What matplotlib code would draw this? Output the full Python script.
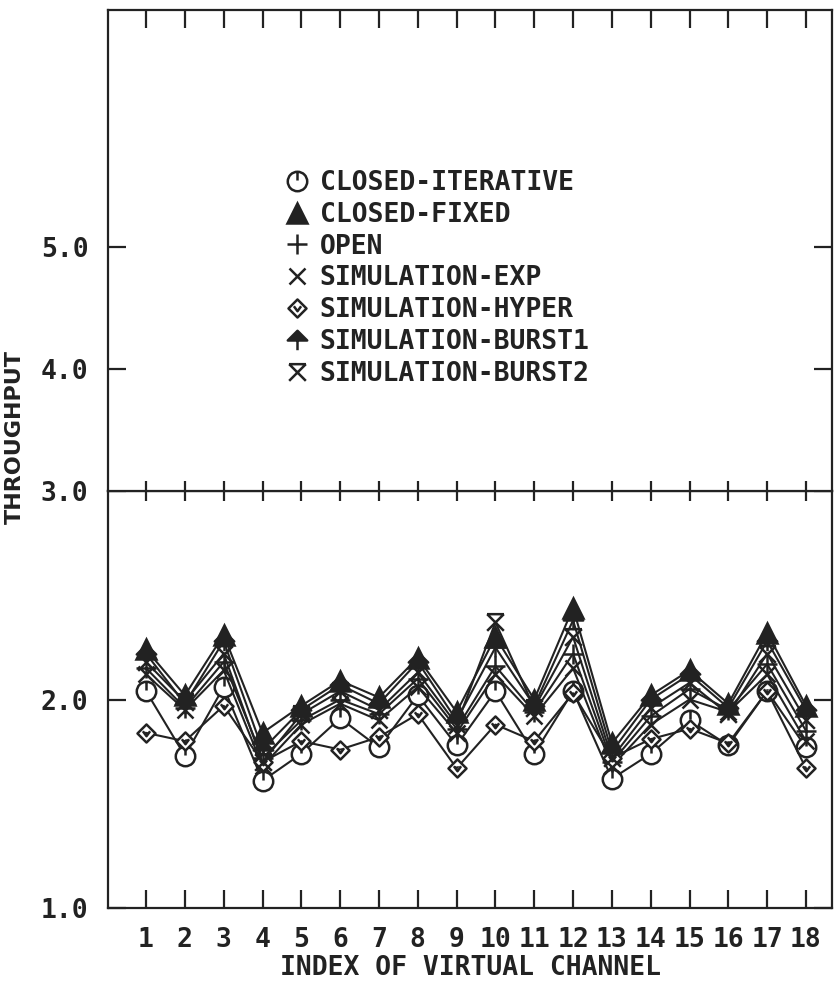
import matplotlib
matplotlib.use("Agg")
import matplotlib.pyplot as plt
from matplotlib.path import Path
from matplotlib.lines import Line2D

# throughput per virtual channel for each model
channels = list(range(1, 19))
closed_iterative = [2.04, 1.73, 2.06, 1.61, 1.74, 1.91, 1.77, 2.02, 1.78, 2.04, 1.74, 2.04, 1.62, 1.74, 1.90, 1.78, 2.04, 1.77]
closed_fixed     = [2.24, 2.02, 2.31, 1.84, 1.97, 2.09, 2.01, 2.20, 1.94, 2.30, 2.00, 2.44, 1.79, 2.02, 2.14, 1.98, 2.32, 1.97]
open_model       = [2.15, 1.96, 2.18, 1.72, 1.90, 2.00, 1.93, 2.10, 1.86, 2.16, 1.94, 2.22, 1.70, 1.92, 2.05, 1.95, 2.17, 1.85]
sim_exp          = [2.12, 1.95, 2.14, 1.68, 1.88, 1.98, 1.90, 2.06, 1.84, 2.12, 1.92, 2.15, 1.68, 1.88, 2.00, 1.94, 2.12, 1.80]
sim_hyper        = [1.84, 1.80, 1.97, 1.70, 1.80, 1.76, 1.82, 1.93, 1.67, 1.88, 1.80, 2.03, 1.72, 1.81, 1.86, 1.79, 2.04, 1.67]
sim_burst1       = [2.22, 1.98, 2.28, 1.76, 1.95, 2.07, 1.98, 2.18, 1.90, 2.25, 1.97, 2.38, 1.75, 2.00, 2.12, 1.96, 2.28, 1.95]
sim_burst2       = [2.18, 1.99, 2.22, 1.70, 1.93, 2.04, 1.95, 2.13, 1.88, 2.37, 1.96, 2.30, 1.72, 1.96, 2.08, 1.93, 2.22, 1.90]

names = ["CLOSED-ITERATIVE", "CLOSED-FIXED", "OPEN", "SIMULATION-EXP",
         "SIMULATION-HYPER", "SIMULATION-BURST1", "SIMULATION-BURST2"]
values = [closed_iterative, closed_fixed, open_model, sim_exp,
          sim_hyper, sim_burst1, sim_burst2]

ink = "#222222"
mono = "DejaVu Sans Mono"

# plotter style symbols
M, L, C = Path.MOVETO, Path.LINETO, Path.CLOSEPOLY
circle_mark = Path.make_compound_path(
    Path.unit_circle(), Path([(0, 0.1), (0, 1.0)], [M, L]))
diamond_mark = Path.make_compound_path(
    Path([(0, 1), (1, 0), (0, -1), (-1, 0), (0, 1)], [M, L, L, L, C]),
    Path([(-0.4, 0.25), (0, -0.3), (0.4, 0.25)], [M, L, L]))
arrow_mark = Path.make_compound_path(
    Path([(-1, 0.0), (0, 1), (1, 0.0), (-1, 0.0)], [M, L, L, C]),
    Path([(0, 0.0), (0, -1)], [M, L]))
hourglass_mark = Path([(-1, 1), (1, 1), (-1, 1), (1, -1), (1, 1), (-1, -1)],
                      [M, L, M, L, M, L])

styles = [
    dict(marker=circle_mark, ms=14, mfc="white"),
    dict(marker="^", ms=14, mfc=ink),
    dict(marker="+", ms=15, mfc="none"),
    dict(marker="x", ms=12, mfc="none"),
    dict(marker=diamond_mark, ms=13, mfc="white"),
    dict(marker=arrow_mark, ms=14, mfc=ink),
    dict(marker=hourglass_mark, ms=12, mfc="none"),
]

fig = plt.figure(figsize=(8.34, 9.82), dpi=100)
left, width = 108 / 834, 724 / 834
ax = fig.add_axes([left, 74 / 982, width, 417 / 982])
ax_top = fig.add_axes([left, 491 / 982, width, 481 / 982])

for vals, st in zip(values, styles):
    ax.plot(channels, vals, color=ink, lw=1.5, mec=ink, mew=1.8, **st)

xlim = (0.02, 18.67)
ax.set_xlim(*xlim)
ax.set_ylim(1.0, 3.0)
ax_top.set_xlim(*xlim)
ax_top.set_ylim(3.0, 6.94)

for a in (ax, ax_top):
    for sp in a.spines.values():
        sp.set_color(ink)
        sp.set_linewidth(1.6)
    a.tick_params(axis="both", direction="in", length=13, width=1.6,
                  color=ink, labelcolor=ink, labelsize=19)
    a.tick_params(axis="y", left=True, right=True, labelleft=True, pad=14)
ax_top.spines["bottom"].set_visible(False)

ax.set_xticks(channels)
ax.set_xticklabels([str(c) for c in channels], family=mono, weight="bold")
ax.tick_params(axis="x", top=False, bottom=True, pad=14)
ax.set_yticks([1.0, 2.0, 3.0])
ax.set_yticklabels(["1.0", "2.0", "3.0"], family=mono, weight="bold")

ax_top.set_xticks(channels)
ax_top.tick_params(axis="x", top=True, bottom=False, labelbottom=False)
ax_top.set_yticks([4.0, 5.0])
ax_top.set_yticklabels(["4.0", "5.0"], family=mono, weight="bold")

# crossing ticks along the 3.0 line
ax_mid = ax.twiny()
ax_mid.set_xlim(*xlim)
ax_mid.set_xticks(channels)
ax_mid.tick_params(axis="x", direction="inout", length=14, width=1.6,
                   color=ink, labeltop=False)
for sp in ("left", "right", "bottom"):
    ax_mid.spines[sp].set_visible(False)
ax_mid.spines["top"].set_color(ink)
ax_mid.spines["top"].set_linewidth(1.6)

ax.set_xlabel("INDEX OF VIRTUAL CHANNEL", family=mono, fontsize=19,
              weight="bold", color=ink, labelpad=1)
fig.text(0.018, (982 - 437) / 982, "THROUGHPUT", rotation=90,
         ha="center", va="center", fontsize=16, weight="bold", color=ink)

handles = [Line2D([], [], ls="none", color=ink, mec=ink, mew=1.8, **st)
           for st in styles]
ax_top.legend(handles, names, loc="upper left",
              bbox_to_anchor=(284 / 834, 1 - 170 / 982),
              bbox_transform=fig.transFigure, frameon=False,
              prop={"family": mono, "size": 19, "weight": "bold"},
              labelcolor=ink, handlelength=1.0, handletextpad=0.35,
              labelspacing=0.22, borderpad=0, borderaxespad=0)

fig.savefig("out.png", dpi=100)
